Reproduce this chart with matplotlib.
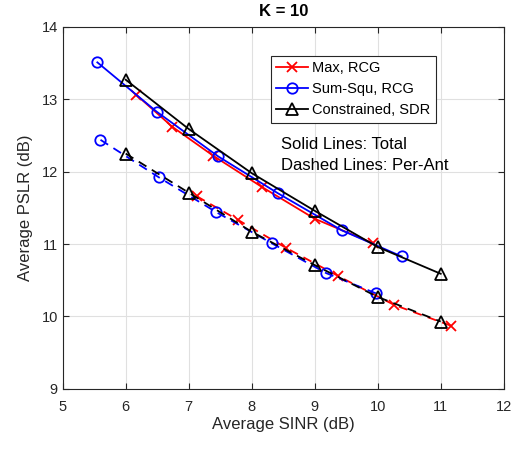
import matplotlib.pyplot as plt
import numpy as np

plt.rcParams['font.family'] = ['Liberation Sans', 'DejaVu Sans']

# solid lines: total power constraint
sinr_max_tot = [6.17, 6.74, 7.39, 8.16, 9.0, 9.93]
pslr_max_tot = [13.06, 12.62, 12.22, 11.79, 11.35, 11.01]
sinr_ss_tot = [5.55, 6.49, 7.47, 8.42, 9.43, 10.38]
pslr_ss_tot = [13.51, 12.83, 12.21, 11.70, 11.19, 10.83]
sinr_sdr_tot = [6, 7, 8, 9, 10, 11]
pslr_sdr_tot = [13.27, 12.59, 11.98, 11.46, 10.96, 10.59]

# dashed lines: per-antenna constraint
sinr_max_pa = [7.13, 7.79, 8.54, 9.37, 10.26, 11.17]
pslr_max_pa = [11.66, 11.33, 10.95, 10.56, 10.16, 9.87]
sinr_ss_pa = [5.6, 6.53, 7.44, 8.32, 9.18, 9.97]
pslr_ss_pa = [12.44, 11.92, 11.44, 11.01, 10.60, 10.32]
sinr_sdr_pa = [6, 7, 8, 9, 10, 11]
pslr_sdr_pa = [12.25, 11.71, 11.17, 10.71, 10.27, 9.93]

fig = plt.figure(figsize=(5.26, 4.49), dpi=100)
ax = fig.add_axes([0.1192, 0.1339, 0.8384, 0.8062])

lw = 1.3
ax.plot(sinr_max_tot, pslr_max_tot, '-x', color='red', lw=lw, ms=7, mew=1.3, label='Max, RCG')
ax.plot(sinr_ss_tot, pslr_ss_tot, '-o', color='blue', lw=lw, ms=7.5, mew=1.3, mfc='none', label='Sum-Squ, RCG')
ax.plot(sinr_sdr_tot, pslr_sdr_tot, '-^', color='black', lw=lw, ms=8, mew=1.3, mfc='none', label='Constrained, SDR')

ax.plot(sinr_max_pa, pslr_max_pa, '--x', color='red', lw=lw, ms=7, mew=1.3, dashes=(5, 3.5))
ax.plot(sinr_ss_pa, pslr_ss_pa, '--o', color='blue', lw=lw, ms=7.5, mew=1.3, mfc='none', dashes=(5, 3.5))
ax.plot(sinr_sdr_pa, pslr_sdr_pa, '--^', color='black', lw=lw, ms=8, mew=1.3, mfc='none', dashes=(5, 3.5))

ax.set_xlim(5, 12)
ax.set_ylim(9, 14)
ax.set_xticks(np.arange(5, 13, 1))
ax.set_yticks(np.arange(9, 15, 1))
ax.grid(True, color='#e0e0e0', lw=0.8)
ax.set_axisbelow(True)
ax.tick_params(direction='in', top=True, right=True, labelsize=10.5, length=4, colors='#262626')
ax.tick_params(axis='x', pad=8)
for s in ax.spines.values():
    s.set_color('#262626')
    s.set_linewidth(0.8)

ax.set_xlabel('Average SINR (dB)', fontsize=12, color='#262626', labelpad=2)
ax.set_ylabel('Average PSLR (dB)', fontsize=12, color='#262626', labelpad=6)
ax.set_title('K = 10', fontsize=12, fontweight='bold', pad=8)

leg = ax.legend(loc='upper left', bbox_to_anchor=(0.4717, 0.9204), borderaxespad=0,
                fancybox=False, fontsize=10.5, handlelength=2.2, handletextpad=0.3,
                labelspacing=0.5, borderpad=0.35, framealpha=1)
leg.get_frame().set_edgecolor('#262626')
leg.get_frame().set_linewidth(0.8)

ax.text(8.46, 12.38, 'Solid Lines: Total', fontsize=12, va='center', ha='left')
ax.text(8.46, 12.08, 'Dashed Lines: Per-Ant', fontsize=12, va='center', ha='left')

fig.savefig('out.png', dpi=100)
